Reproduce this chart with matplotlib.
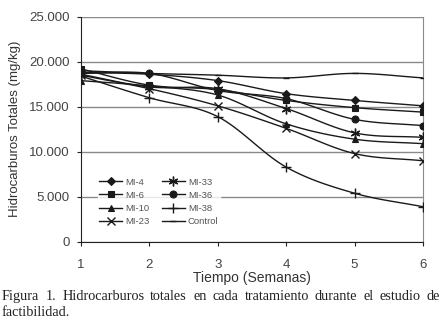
import numpy as np
import matplotlib
matplotlib.use("Agg")
import matplotlib.pyplot as plt
from matplotlib.ticker import FuncFormatter

# datos (mg/kg)
semanas = [1, 2, 3, 4, 5, 6]
mi4 = [18800, 18600, 17900, 16450, 15700, 15100]
mi6 = [19200, 17400, 16900, 15700, 14900, 14400]
mi10 = [17900, 17300, 16300, 13100, 11400, 10900]
mi23 = [18500, 17000, 15100, 12600, 9800, 9000]
mi33 = [18600, 17200, 17000, 14800, 12100, 11600]
mi36 = [18700, 18700, 16800, 15900, 13600, 12900]
mi38 = [18400, 16000, 13900, 8300, 5400, 3900]
control = [19000, 18700, 18500, 18200, 18700, 18200]

series = [("MI-4", mi4, "D"), ("MI-6", mi6, "s"), ("MI-10", mi10, "^"),
          ("MI-23", mi23, "x"), ("MI-33", mi33, (6, 2, 0)), ("MI-36", mi36, "o"),
          ("MI-38", mi38, "+"), ("Control", control, "_")]

caption1 = "Figura 1. Hidrocarburos totales en cada tratamiento durante el estudio de"
caption2 = "factibilidad."


def suave(x, y, n=24):
    # curva Catmull-Rom tipo "linea suavizada" de Excel
    x = np.asarray(x, float)
    y = np.asarray(y, float)
    px = np.concatenate([[2 * x[0] - x[1]], x, [2 * x[-1] - x[-2]]])
    py = np.concatenate([[2 * y[0] - y[1]], y, [2 * y[-1] - y[-2]]])
    xs, ys = [], []
    t = np.linspace(0, 1, n)
    for i in range(1, len(px) - 2):
        for p, out in ((px, xs), (py, ys)):
            p0, p1, p2, p3 = p[i - 1], p[i], p[i + 1], p[i + 2]
            out.extend(0.5 * (2 * p1 + (-p0 + p2) * t
                              + (2 * p0 - 5 * p1 + 4 * p2 - p3) * t ** 2
                              + (-p0 + 3 * p1 - 3 * p2 + p3) * t ** 3))
    return xs, ys


fig = plt.figure(figsize=(4.42, 3.26), dpi=100)
ax = fig.add_axes([0.183, 0.258, 0.774, 0.691])

for nombre, vals, mk in series:
    xs, ys = suave(semanas, vals)
    ax.plot(xs, ys, color="#1a1a1a", lw=1.0, zorder=3)
    ms = {"D": 4.3, "s": 4.5, "^": 5, "o": 5, "x": 6, "+": 7, "_": 4}.get(mk, 7)
    mew = 1.0 if mk in ("x", "+", (6, 2, 0), "_") else 0.8
    ax.plot(semanas, vals, ls="none", marker=mk, ms=ms, mew=mew,
            color="#1a1a1a", zorder=4)
    ax.plot([], [], color="#1a1a1a", lw=1.0, marker=mk, ms=ms, mew=mew, label=nombre)

ax.set_xlim(1, 6)
ax.set_ylim(0, 25000)
ax.set_xticks(semanas)
ax.set_yticks(range(0, 25001, 5000))
ax.yaxis.set_major_formatter(FuncFormatter(lambda v, p: "0" if v == 0 else f"{int(v):,}".replace(",", ".")))
ax.grid(axis="y", color="#8a8a8a", lw=1.0)
ax.set_axisbelow(True)
ax.spines["top"].set_visible(False)
ax.spines["right"].set_color("#8a8a8a")
ax.spines["left"].set_color("#222222")
ax.spines["bottom"].set_color("#222222")
ax.tick_params(direction="out", length=3, labelsize=9.5, colors="#222222",
               labelcolor="#444444")
ax.tick_params(axis="x", pad=9)
ax.tick_params(axis="y", pad=5)
ax.set_xlabel("Tiempo (Semanas)", fontsize=10, color="#333333", labelpad=0,
              family="Liberation Sans")
ax.set_ylabel("Hidrocarburos Totales (mg/kg)", fontsize=9.5, color="#333333",
              family="Liberation Sans", labelpad=6)
for lab in ax.get_xticklabels() + ax.get_yticklabels():
    lab.set_family("Liberation Sans")

leg = ax.legend(ncol=2, loc="lower left", bbox_to_anchor=(0.035, 0.04),
                frameon=True, handlelength=2.4, handletextpad=0.35,
                columnspacing=1.3, labelspacing=0.45, borderpad=0.2,
                prop={"family": "Liberation Sans", "size": 6.8})
leg.get_frame().set_facecolor("white")
leg.get_frame().set_edgecolor("white")
for t in leg.get_texts():
    t.set_color("#555555")
leg.set_zorder(5)

# pie de figura justificado
renderer = fig.canvas.get_renderer()
palabras = caption1.split(" ")
objs = [fig.text(0, 0.08, w, family="Liberation Serif", fontsize=10.3, color="#222222")
        for w in palabras]
anchos = [o.get_window_extent(renderer).width for o in objs]
x0, x1 = 2, 440
hueco = max(2.0, (x1 - x0 - sum(anchos)) / (len(palabras) - 1))
pos = x0
for o, w in zip(objs, anchos):
    o.set_x(pos / fig.bbox.width)
    pos += w + hueco
fig.text(x0 / fig.bbox.width, 0.032, caption2, family="Liberation Serif", fontsize=10.3,
         color="#222222")

fig.savefig("out.png", dpi=100)
